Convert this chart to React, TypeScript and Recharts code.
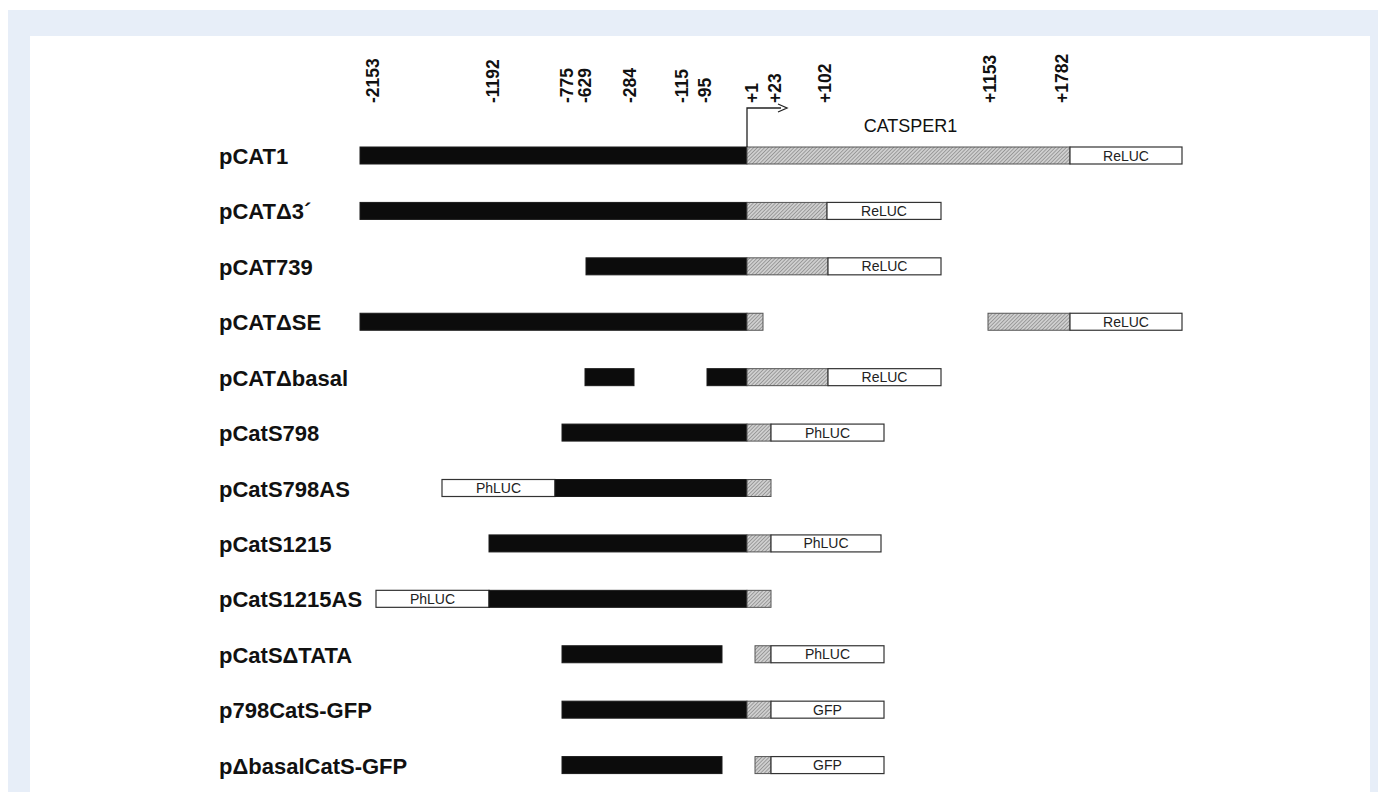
import React from 'react'
import { BarChart, Bar, XAxis, YAxis, ReferenceLine } from 'recharts'

// construct names, top to bottom
const constructs = [
  'pCAT1', 'pCATΔ3´', 'pCAT739', 'pCATΔSE', 'pCATΔbasal', 'pCatS798',
  'pCatS798AS', 'pCatS1215', 'pCatS1215AS', 'pCatSΔTATA', 'p798CatS-GFP', 'pΔbasalCatS-GFP',
]

// segments on the schematic axis: [kind, start, end, text]
// P = 5' flanking region (black), E = CATSPER1 exon (hatched), R = reporter box
type Seg = [string, number, number, string?]
const pCAT1: Seg[] = [['P', 0, 387], ['E', 387, 710], ['R', 710, 822, 'ReLUC']]
const pCATd3: Seg[] = [['P', 0, 387], ['E', 387, 467], ['R', 467, 581, 'ReLUC']]
const pCAT739: Seg[] = [['P', 226, 387], ['E', 387, 468], ['R', 468, 581, 'ReLUC']]
const pCATdSE: Seg[] = [['P', 0, 387], ['E', 387, 403], ['E', 628, 710], ['R', 710, 822, 'ReLUC']]
const pCATdBasal: Seg[] = [['P', 225, 274], ['P', 347, 387], ['E', 387, 468], ['R', 468, 581, 'ReLUC']]
const pCatS798: Seg[] = [['P', 202, 387], ['E', 387, 411], ['R', 411, 524, 'PhLUC']]
const pCatS798AS: Seg[] = [['R', 82, 195, 'PhLUC'], ['P', 195, 387], ['E', 387, 411]]
const pCatS1215: Seg[] = [['P', 129, 387], ['E', 387, 411], ['R', 411, 521, 'PhLUC']]
const pCatS1215AS: Seg[] = [['R', 16, 129, 'PhLUC'], ['P', 129, 387], ['E', 387, 411]]
const pCatSdTATA: Seg[] = [['P', 202, 362], ['E', 395, 411], ['R', 411, 524, 'PhLUC']]
const p798GFP: Seg[] = [['P', 202, 387], ['E', 387, 411], ['R', 411, 524, 'GFP']]
const pdBasalGFP: Seg[] = [['P', 202, 362], ['E', 395, 411], ['R', 411, 524, 'GFP']]

const segments = [
  pCAT1, pCATd3, pCAT739, pCATdSE, pCATdBasal, pCatS798,
  pCatS798AS, pCatS1215, pCatS1215AS, pCatSdTATA, p798GFP, pdBasalGFP,
]

// top axis: schematic position and the genomic coordinate written there
const tickPositions = [13, 133, 207, 225, 270, 322, 345, 392, 415, 465, 630, 702]
const tickLabels = ['-2153', '-1192', '-775', '-629', '-284', '-115', '-95', '+1', '+23', '+102', '+1153', '+1782']

const TSS = 387 // +1
const GENE_MID = (387 + 710) / 2
const SLOTS = 6

const rows = constructs.map((name, i) => {
  const row: Record<string, any> = { name }
  for (let k = 0; k < SLOTS; k++) { row[`s${k}`] = 0; row[`k${k}`] = 'gap' }
  let cursor = 0
  let k = 0
  for (const [kind, start, end, text] of segments[i]) {
    if (start > cursor) { row[`s${k}`] = start - cursor; row[`k${k}`] = 'gap'; k++ }
    row[`s${k}`] = end - start
    row[`k${k}`] = kind
    row[`t${k}`] = text
    k++
    cursor = end
  }
  return row
})

const FONT = '"Liberation Sans", Arial, Helvetica, sans-serif'

const Segment = (props: any) => {
  const { x, y, width, height, index, slot } = props
  const row = rows[index]
  const kind = row?.[`k${slot}`]
  if (!width || width <= 0 || kind === 'gap') return null
  if (kind === 'P') return <rect x={x} y={y} width={width} height={height} fill="#0c0c0c" stroke="#1a1a1a" strokeWidth={1} />
  if (kind === 'E') return <rect x={x} y={y} width={width} height={height} fill="url(#hatch)" stroke="#555" strokeWidth={1} />
  return (
    <g>
      <rect x={x} y={y} width={width} height={height} fill="#fff" stroke="#333" strokeWidth={1.2} />
      <text x={x + width / 2} y={y + height / 2} dy="0.36em" textAnchor="middle" fontFamily={FONT} fontSize={14} fill="#222">
        {row[`t${slot}`]}
      </text>
    </g>
  )
}

const TopTick = (props: any) => {
  const { x, payload } = props
  const label = tickLabels[tickPositions.indexOf(payload.value)]
  return (
    <g transform={`translate(${x},67) rotate(-90)`}>
      <text x={0} y={0} dy="0.36em" textAnchor="start" fontFamily={FONT} fontWeight="bold" fontSize={17.5} fill="#111">
        {label}
      </text>
    </g>
  )
}

const NameTick = (props: any) => {
  const { y, payload } = props
  return (
    <text x={189} y={y} dy="0.38em" textAnchor="start" fontFamily={FONT} fontWeight="bold" fontSize={22} fill="#111">
      {payload.value}
    </text>
  )
}

const StartArrow = (props: any) => {
  const { x1, y1, y2 } = props
  const top = Math.min(y1, y2)
  const ay = top - 20
  return (
    <g>
      <path d={`M${x1},${top + 19} V${ay} H${x1 + 34}`} fill="none" stroke="#222" strokeWidth={1.3} />
      <path d={`M${x1 + 31},${ay - 4} L${x1 + 40},${ay} L${x1 + 31},${ay + 4}`} fill="none" stroke="#222" strokeWidth={1.3} />
    </g>
  )
}

const GeneLabel = (props: any) => {
  const { x1, y1, y2 } = props
  const top = Math.min(y1, y2)
  return (
    <text x={x1 + 2} y={top + 4} textAnchor="middle" fontFamily={FONT} fontSize={18} fill="#111">
      CATSPER1
    </text>
  )
}

export default function App() {
  return (
    <div style={{ position: 'absolute', left: 8, top: 10, width: 1370, height: 782, background: '#e7eef8', overflow: 'hidden' }}>
      <div style={{ position: 'absolute', left: 22, top: 26, width: 1340, height: 756, background: '#fff', overflow: 'hidden' }}>
        <BarChart
          width={1340}
          height={770}
          data={rows}
          layout="vertical"
          margin={{ top: 62, right: 188, bottom: 13, left: 0 }}
          barSize={17}
        >
          <defs>
            <pattern id="hatch" width="2.6" height="2.6" patternUnits="userSpaceOnUse" patternTransform="rotate(45)">
              <rect width="2.6" height="2.6" fill="#cfcfcf" />
              <line x1="0" y1="0" x2="0" y2="2.6" stroke="#6a6a6a" strokeWidth="1" />
            </pattern>
          </defs>
          <XAxis
            type="number"
            orientation="top"
            domain={[0, 822]}
            ticks={tickPositions}
            interval={0}
            height={30}
            axisLine={false}
            tickLine={false}
            tick={<TopTick />}
          />
          <YAxis
            type="category"
            dataKey="name"
            width={330}
            axisLine={false}
            tickLine={false}
            interval={0}
            tick={<NameTick />}
          />
          {Array.from({ length: SLOTS }, (_, k) => (
            <Bar
              key={k}
              dataKey={`s${k}`}
              stackId="c"
              isAnimationActive={false}
              shape={(p: any) => <Segment {...p} slot={k} />}
            />
          ))}
          <ReferenceLine x={TSS} ifOverflow="visible" shape={<StartArrow />} />
          <ReferenceLine x={GENE_MID} ifOverflow="visible" shape={<GeneLabel />} />
        </BarChart>
      </div>
    </div>
  )
}
